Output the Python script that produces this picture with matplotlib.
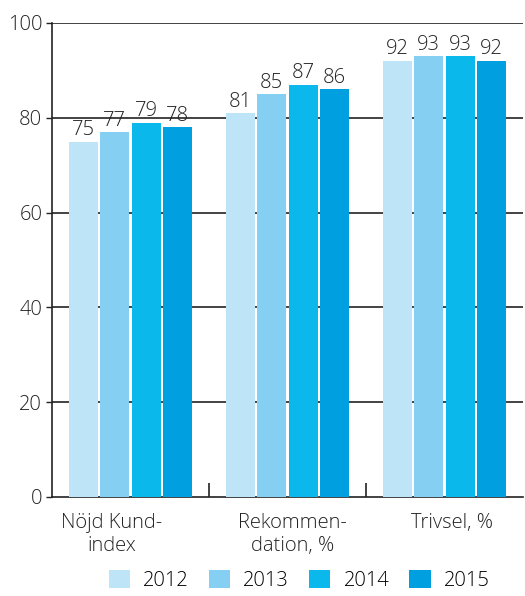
import matplotlib
matplotlib.use("Agg")
import matplotlib.pyplot as plt
import numpy as np
from matplotlib.patches import Patch

categories = ["Nöjd Kund-\nindex", "Rekommen-\ndation, %", "Trivsel, %"]
years = ["2012", "2013", "2014", "2015"]
values = {
    "2012": [75, 81, 92],
    "2013": [77, 85, 93],
    "2014": [79, 87, 93],
    "2015": [78, 86, 92],
}
colors = ["#BEE4F8", "#84CFF2", "#0BB8EC", "#00A0E0"]

plt.rcParams['font.family'] = ['Open Sans', 'DejaVu Sans']
plt.rcParams['font.weight'] = 'light'

fig = plt.figure(figsize=(5.25, 5.96), dpi=100)
ax = fig.add_axes([52/525, 1-497/596, 471/525, (497-23)/596])

x = np.arange(len(categories))
step = 0.2
width = 0.185
for i, y in enumerate(years):
    pos = x + (i - 1.5) * step
    bars = ax.bar(pos, values[y], width=width, color=colors[i], zorder=3)
    for b, v in zip(bars, values[y]):
        ax.text(b.get_x() + b.get_width()/2, v + 0.3, str(v), ha='center', va='bottom',
                fontsize=14.5, color='#222222', zorder=4)

ax.set_xlim(-0.5, 2.5)
ax.set_ylim(0, 100)
ax.set_yticks([0, 20, 40, 60, 80, 100])
ax.tick_params(axis='y', labelsize=14.5, length=4, width=1, colors='#222222', pad=3)
for yv in [20, 40, 60, 80, 100]:
    ax.axhline(yv, color='#222222', lw=1.2, zorder=2)

ax.set_xticks([0.5, 1.5])
ax.set_xticklabels([])
ax.tick_params(axis='x', direction='in', length=10, width=1.2, colors='#222222')
label_offsets = [-0.12, 0.03, 0.045]
for i, c in enumerate(categories):
    ax.text(i + label_offsets[i], -3.3, c, ha='center', va='top', fontsize=14.5,
            color='#222222', linespacing=1.2)

ax.spines['top'].set_visible(False)
ax.spines['right'].set_visible(False)
ax.spines['left'].set_linewidth(1.2)
ax.spines['bottom'].set_linewidth(1.2)
ax.spines['left'].set_color('#222222')
ax.spines['bottom'].set_color('#222222')

handles = [Patch(facecolor=c, edgecolor='none') for c in colors]
fig.legend(handles, years, loc='lower center', bbox_to_anchor=(0.57, -0.022), ncol=4,
           frameon=False, fontsize=14.5, handlelength=1.05, handleheight=1.05,
           columnspacing=1.0, handletextpad=0.65)

fig.savefig("out.png", dpi=100)
